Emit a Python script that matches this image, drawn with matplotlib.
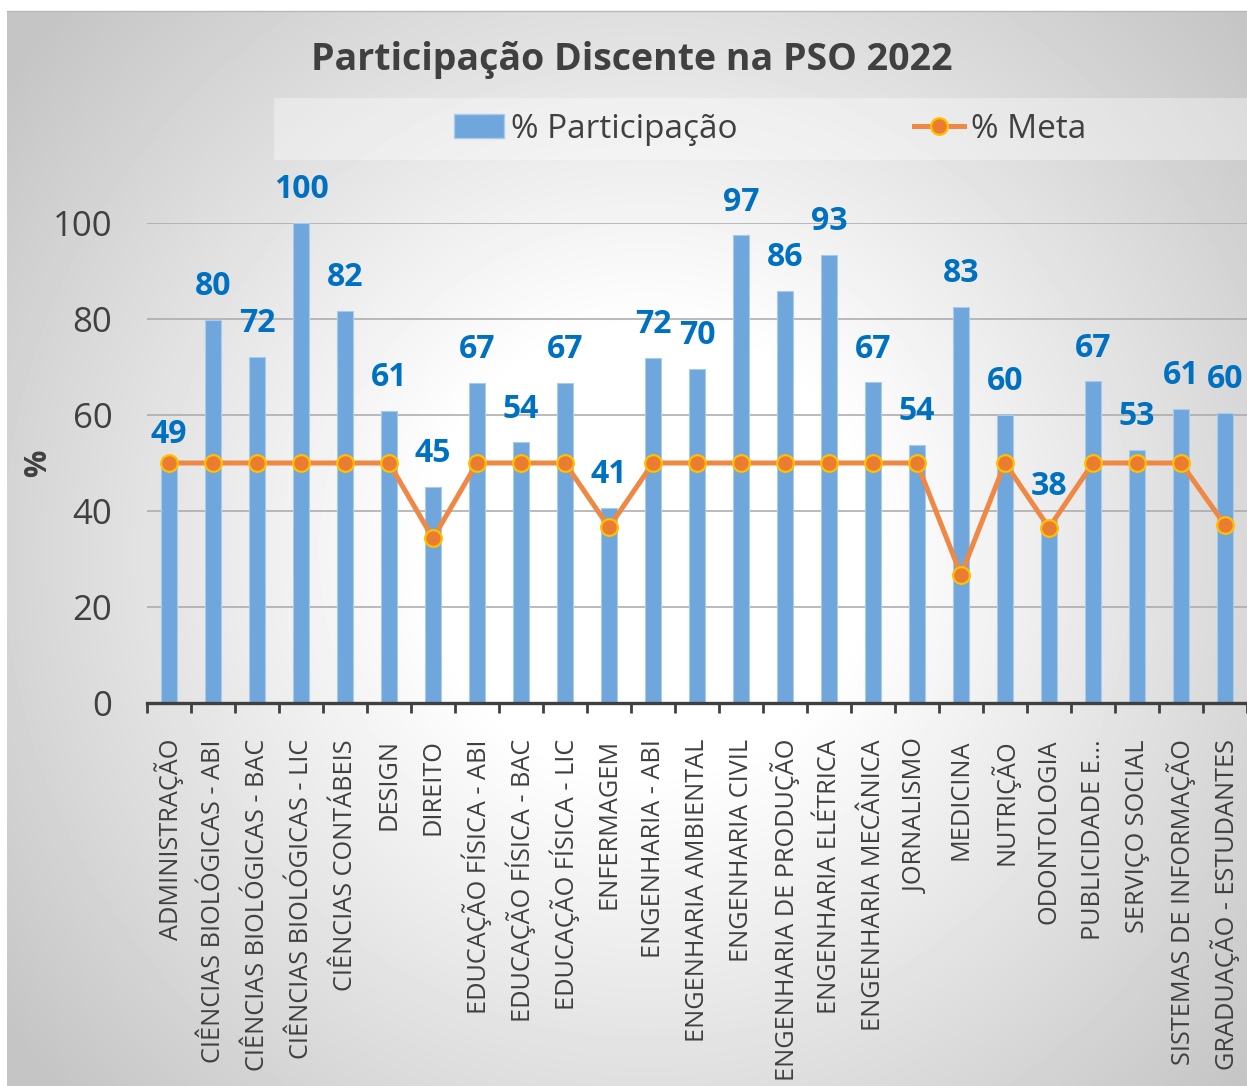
import numpy as np
import matplotlib.pyplot as plt
from matplotlib.lines import Line2D
from matplotlib.patches import Patch, Rectangle

plt.rcParams['font.family'] = ['Open Sans', 'DejaVu Sans']

cursos = ['ADMINISTRAÇÃO', 'CIÊNCIAS BIOLÓGICAS - ABI', 'CIÊNCIAS BIOLÓGICAS - BAC',
          'CIÊNCIAS BIOLÓGICAS - LIC', 'CIÊNCIAS CONTÁBEIS', 'DESIGN', 'DIREITO',
          'EDUCAÇÃO FÍSICA - ABI', 'EDUCAÇÃO FÍSICA - BAC', 'EDUCAÇÃO FÍSICA - LIC',
          'ENFERMAGEM', 'ENGENHARIA - ABI', 'ENGENHARIA AMBIENTAL', 'ENGENHARIA CIVIL',
          'ENGENHARIA DE PRODUÇÃO', 'ENGENHARIA ELÉTRICA', 'ENGENHARIA MECÂNICA',
          'JORNALISMO', 'MEDICINA', 'NUTRIÇÃO', 'ODONTOLOGIA', 'PUBLICIDADE E...',
          'SERVIÇO SOCIAL', 'SISTEMAS DE INFORMAÇÃO', 'GRADUAÇÃO - ESTUDANTES']
participacao = [49, 79.8, 72.1, 100, 81.7, 60.8, 45, 66.7, 54.3, 66.6,
                40.6, 71.9, 69.6, 97.4, 85.9, 93.3, 66.8, 53.8, 82.6, 60.1,
                38.1, 67.0, 52.7, 61.3, 60.4]
meta = [50, 50, 50, 50, 50, 50, 34.3, 50, 50, 50,
        36.6, 50, 50, 50, 50, 50, 50, 50, 26.7, 50,
        36.5, 50, 50, 50, 37.1]

W, H = 1247, 1086
fig = plt.figure(figsize=(W / 100, H / 100), dpi=100)

# gradient background of the chart area
x0, y0 = 7, 11
bg = fig.add_axes([x0 / W, 0, 1 - x0 / W, 1 - y0 / H], zorder=-10)
yy, xx = np.mgrid[0:H - y0, 0:W - x0]
d = np.hypot(xx - 640, yy - 540)
g = 1 - 0.23 * np.clip((d - 220) / 580, 0, 1)
bg.imshow(g, cmap='gray', vmin=0, vmax=1, aspect='auto', interpolation='bilinear')
bg.axis('off')
fig.add_artist(Line2D([x0 / W, 1], [1 - y0 / H] * 2, color='#b8b8b8', lw=1))

ax = fig.add_axes([147 / W, 1 - 703 / H, 1 - 147 / W, 480 / H])
ax.set_facecolor('none')
x = np.arange(len(cursos))
ax.bar(x, participacao, width=0.36, color='#6FA6DB', edgecolor='#A9CBEA',
       linewidth=0.8, zorder=2)
ax.plot(x, meta, color='#EE8844', lw=3.6, marker='o', markersize=12,
        markerfacecolor='#EA7D32', markeredgecolor='#FFC000', markeredgewidth=1.6,
        zorder=3)

for i, v in enumerate(participacao):
    ax.annotate(f'{v:.0f}', (i, v), xytext=(0, 24), textcoords='offset points',
                ha='center', va='center', fontsize=23, fontweight='bold',
                color='#0070C0', annotation_clip=False, zorder=4)

ax.set_xlim(-0.5, len(cursos) - 0.5)
ax.set_ylim(0, 100)
ax.set_yticks(range(0, 101, 20))
ax.tick_params(axis='y', length=0, pad=25, labelsize=25, labelcolor='#404040')
ax.grid(axis='y', color='#a8a8a8', lw=1.1, zorder=0)
ax.set_axisbelow(True)

ax.set_xticks(x)
ax.set_xticklabels(cursos, rotation=90, ha='center', va='top')
ax.tick_params(axis='x', length=0, pad=26, labelsize=18.2, labelcolor='#404040')
ax.set_xticks(np.arange(-0.5, len(cursos), 1), minor=True)
ax.tick_params(axis='x', which='minor', length=7, width=2, color='#404040', direction='out')

for s in ['top', 'right', 'left']:
    ax.spines[s].set_visible(False)
ax.spines['bottom'].set_color('#404040')
ax.spines['bottom'].set_linewidth(2.4)

fig.text(38 / W, 1 - 463 / H, '%', rotation=90, ha='center', va='center',
         fontsize=22, fontweight='bold', color='#404040')
fig.text(632 / W, 1 - 60 / H, 'Participação Discente na PSO 2022', ha='center',
         va='center', fontsize=27, fontweight='bold', color='#404040')

# legend
fig.add_artist(Rectangle((274 / W, 1 - 160 / H), 1 - 274 / W, 62 / H,
                         transform=fig.transFigure, facecolor='white', alpha=0.35,
                         edgecolor='none'))
handles = [Patch(facecolor='#6FA6DB', edgecolor='#A9CBEA'),
           Line2D([], [], color='#EE8844', lw=3.6, marker='o', markersize=12,
                  markerfacecolor='#EA7D32', markeredgecolor='#FFC000', markeredgewidth=1.6)]
fig.legend(handles, ['% Participação', '% Meta'], loc='center left',
           bbox_to_anchor=(454 / W, 1 - 129 / H), ncol=2, frameon=False,
           fontsize=24, labelcolor='#404040', handlelength=1.5, handletextpad=0.2,
           columnspacing=5.3, borderaxespad=0, borderpad=0)

fig.savefig('out.png', dpi=100)
